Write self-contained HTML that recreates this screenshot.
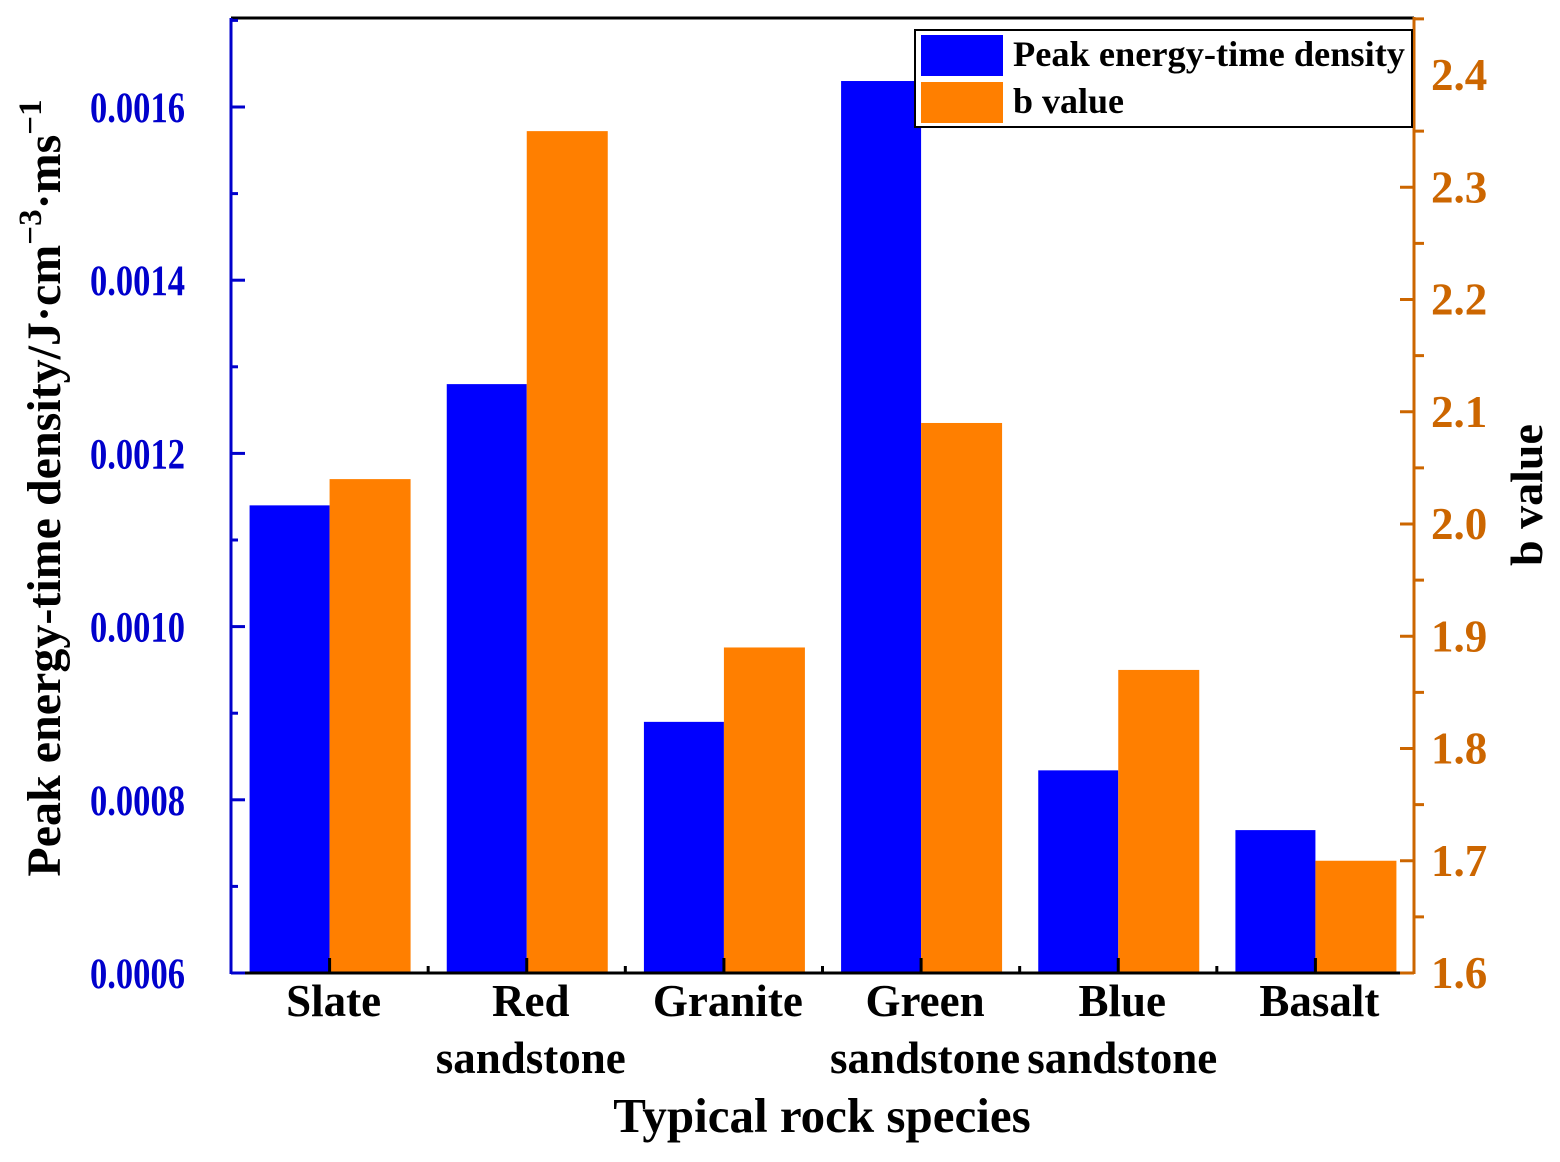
<!DOCTYPE html>
<html><head><meta charset="utf-8"><style>
body{margin:0;background:#fff}
svg text{font-family:"Liberation Serif",serif;font-weight:bold}
</style></head><body>
<svg id="chart" width="1560" height="1157" xmlns="http://www.w3.org/2000/svg">
<g id="bars"></g>
<g id="axes"></g>
</svg>
<script>
const categories=[["Slate"],["Red","sandstone"],["Granite"],["Green","sandstone"],["Blue","sandstone"],["Basalt"]];
const peakDensity=[0.00114,0.00128,0.00089,0.00163,0.000834,0.000765];
const bValues=[2.04,2.35,1.89,2.09,1.87,1.70];
const leftTicks=[0.0006,0.0008,0.0010,0.0012,0.0014,0.0016];
const rightTicks=[1.6,1.7,1.8,1.9,2.0,2.1,2.2,2.3,2.4];

const NS="http://www.w3.org/2000/svg";
const L=231,R=1414,T=18,B=973;
const yL=v=>B-(v-0.0006)/0.001*866;
const yR=v=>B-(v-1.6)/0.1*112.25;
const band=(R-L)/categories.length;
const xc=i=>L+band*(i+0.5);
function mk(tag,attrs,parent,txt){const e=document.createElementNS(NS,tag);for(const k in attrs)e.setAttribute(k,attrs[k]);if(txt!==undefined)e.textContent=txt;parent.appendChild(e);return e;}
const gb=document.getElementById('bars'),ga=document.getElementById('axes');
const bw=80;
categories.forEach((c,i)=>{
 let r=mk('rect',{x:xc(i)-bw,y:yL(peakDensity[i]),width:bw,height:B-yL(peakDensity[i]),fill:'#0000ff'},gb);
 
 
 let o=mk('rect',{x:xc(i),y:yR(bValues[i]),width:bw+1,height:B-yR(bValues[i]),fill:'#ff7f00'},gb);
 
 
 let t=mk('text',{'font-size':45,'text-anchor':'middle',fill:'#000'},ga);
 
 
 c.forEach((w,j)=>mk('tspan',{x:xc(i)+4,y:1016+j*57},t,w));
 mk('line',{x1:xc(i),x2:xc(i),y1:B,y2:B-15,stroke:'#000','stroke-width':3},ga);
 if(i>0)mk('line',{x1:L+band*i,x2:L+band*i,y1:B,y2:B-7,stroke:'#000','stroke-width':3},ga);
});
mk('line',{x1:L,x2:R,y1:T,y2:T,stroke:'#000','stroke-width':3},ga);
mk('line',{x1:L,x2:R,y1:B,y2:B,stroke:'#000','stroke-width':3},ga);
let la=mk('line',{x1:L,x2:L,y1:T,y2:B+1,stroke:'#0000cc','stroke-width':3},ga);

let ra=mk('line',{x1:R,x2:R,y1:T-1,y2:B+1,stroke:'#cc6600','stroke-width':3},ga);

leftTicks.forEach((v,i)=>{
 mk('line',{x1:L,x2:L+14,y1:yL(v),y2:yL(v),stroke:'#0000cc','stroke-width':3},ga);
 const m=v+0.0001; if(yL(m)>T) mk('line',{x1:L,x2:L+7,y1:yL(m),y2:yL(m),stroke:'#0000cc','stroke-width':3},ga);
 let t=mk('text',{x:90,y:yL(v)+15,'font-size':43,textLength:95,lengthAdjust:'spacingAndGlyphs',fill:'#0000cc'},ga,v.toFixed(4));
 
});
rightTicks.forEach(v=>{
 mk('line',{x1:R,x2:R-14,y1:yR(v),y2:yR(v),stroke:'#cc6600','stroke-width':3},ga);
 const m=v+0.05; if(yR(m)>T) mk('line',{x1:R,x2:R+10,y1:yR(m),y2:yR(m),stroke:'#cc6600','stroke-width':3},ga);
 let t=mk('text',{x:1431,y:yR(v)+15,'font-size':45,fill:'#cc6600'},ga,v.toFixed(1));
 
});
</script>
<svg style="position:absolute;left:0;top:0" width="1560" height="1157" xmlns="http://www.w3.org/2000/svg">
<text x="822" y="1132" font-size="49" text-anchor="middle" fill="#000">Typical rock species</text>
<text transform="translate(60,488) rotate(-90)" font-size="48" text-anchor="middle" fill="#000">Peak energy-time density/J·cm<tspan dy="-19" font-size="33">−3</tspan><tspan dy="19">·ms</tspan><tspan dy="-19" font-size="33">−1</tspan></text>
<text transform="translate(1542,495) rotate(-90)" font-size="46" text-anchor="middle" fill="#000">b value</text>
<g>
<rect x="915" y="30" width="497" height="97" fill="#fff" stroke="#000" stroke-width="2"/>
<rect x="921" y="35" width="82" height="41" fill="#0000ff"/>
<rect x="921" y="82" width="82" height="41" fill="#ff7f00"/>
<text x="1013" y="66" font-size="36" textLength="392" lengthAdjust="spacingAndGlyphs" fill="#000">Peak energy-time density</text>
<text x="1013" y="113" font-size="36" fill="#000">b value</text>
</g>
</svg>
</body></html>
